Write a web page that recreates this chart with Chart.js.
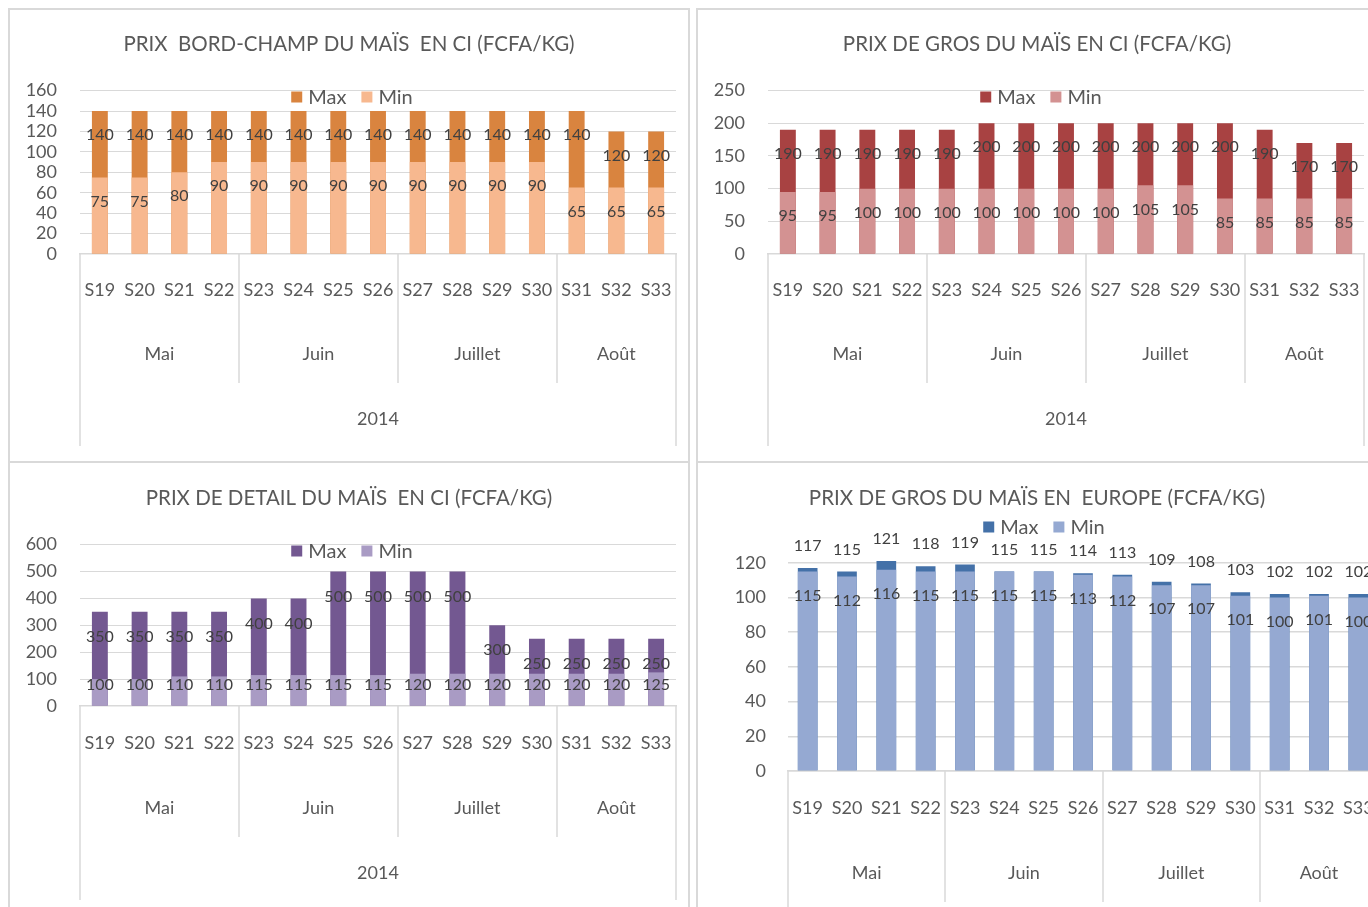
<!DOCTYPE html>
<html><head><meta charset="utf-8">
<script src="https://cdn.jsdelivr.net/npm/chart.js@4.4.1/dist/chart.umd.min.js"></script>
<style>
html,body{margin:0;padding:0;background:#fff;overflow:hidden;width:1368px;height:907px;position:relative;}
.panel{position:absolute;border:2px solid #D9D9D9;box-sizing:border-box;}
canvas{position:absolute;}
</style></head><body>
<div class="panel" style="left:8px;top:8px;width:682px;height:455px"></div>
<div class="panel" style="left:696px;top:8px;width:700px;height:455px"></div>
<div class="panel" style="left:8px;top:461px;width:682px;height:470px"></div>
<div class="panel" style="left:696px;top:461px;width:700px;height:470px"></div>
<canvas id="c1" width="682" height="455" style="left:8px;top:8px"></canvas>
<canvas id="c2" width="682" height="455" style="left:696px;top:8px"></canvas>
<canvas id="c3" width="682" height="455" style="left:8px;top:461px"></canvas>
<canvas id="c4" width="700" height="470" style="left:696px;top:461px"></canvas>
<script>
// ---- data ----
const weeks = ['S19','S20','S21','S22','S23','S24','S25','S26','S27','S28','S29','S30','S31','S32','S33'];
const months = ['Mai','Juin','Juillet','Août'];
const monthSpans = [4,4,4,3];
const yearLabel = '2014';
const seriesNames = ['Max','Min'];

const bordChampMax = [140,140,140,140,140,140,140,140,140,140,140,140,140,120,120];
const bordChampMin = [75,75,80,90,90,90,90,90,90,90,90,90,65,65,65];

const grosCIMax = [190,190,190,190,190,200,200,200,200,200,200,200,190,170,170];
const grosCIMin = [95,95,100,100,100,100,100,100,100,105,105,85,85,85,85];

const detailMax = [350,350,350,350,400,400,500,500,500,500,300,250,250,250,250];
const detailMin = [100,100,110,110,115,115,115,115,120,120,120,120,120,120,125];

const europeMax = [117,115,121,118,119,115,115,114,113,109,108,103,102,102,102];
const europeMin = [115,112,116,115,115,115,115,113,112,107,107,101,100,101,100];

const titles = [
  'PRIX  BORD-CHAMP DU MAÏS  EN CI (FCFA/KG)',
  'PRIX DE GROS DU MAÏS EN CI (FCFA/KG)',
  'PRIX DE DETAIL DU MAÏS  EN CI (FCFA/KG)',
  'PRIX DE GROS DU MAÏS EN  EUROPE (FCFA/KG)'
];

Chart.defaults.font.family = 'Lato';
const TXT = '#595959';
const GRID = '#D9D9D9';

const decor = {
  id: 'decor',
  afterDatasetsDraw(chart, args, o) {
    const ctx = chart.ctx;
    ctx.save();
    ctx.font = o.labelSize + 'px Lato';
    ctx.fillStyle = '#404040';
    ctx.textAlign = 'center';
    ctx.textBaseline = 'middle';
    chart.data.datasets.forEach((ds, di) => {
      const meta = chart.getDatasetMeta(di);
      const rule = o.labels[di];
      meta.data.forEach((el, i) => {
        let y;
        if (rule.outside) {
          y = el.y - rule.offset;
        } else {
          y = el.y + rule.offset;
          if (rule.fromBase != null) y = Math.min(y, el.base - rule.fromBase);
        }
        ctx.fillText(String(ds.data[i]), el.x, y);
      });
    });
    ctx.restore();
  },
  afterDraw(chart, args, o) {
    const ctx = chart.ctx, xs = chart.scales.x;
    const y0 = xs.top;
    const n = chart.data.labels.length;
    const edge = (k) => k <= 0 ? xs.left : (k >= n ? xs.right :
      (xs.getPixelForValue(k - 1) + xs.getPixelForValue(k)) / 2);
    const bounds = [0];
    let k = 0;
    monthSpans.forEach(s => { k += s; bounds.push(k); });
    ctx.save();
    ctx.strokeStyle = GRID;
    ctx.lineWidth = 1.5;
    bounds.forEach((b, j) => {
      const px = Math.round(edge(b));
      const outer = (j === 0 || j === bounds.length - 1);
      ctx.beginPath();
      ctx.moveTo(px, y0);
      ctx.lineTo(px, y0 + (outer ? o.outerLen : o.monthLen));
      ctx.stroke();
    });
    ctx.fillStyle = TXT;
    ctx.font = o.axisSize + 'px Lato';
    ctx.textAlign = 'center';
    ctx.textBaseline = 'middle';
    months.forEach((m, j) => {
      ctx.fillText(m, (edge(bounds[j]) + edge(bounds[j + 1])) / 2, y0 + o.monthDy);
    });
    ctx.fillText(yearLabel, (xs.left + xs.right) / 2, y0 + o.yearDy);

    // legend
    ctx.font = o.legendSize + 'px Lato';
    ctx.textAlign = 'left';
    const sq = 11, gapT = 6, gapI = 15;
    const items = chart.data.datasets.map(d => ({ t: d.label, c: d.backgroundColor, w: ctx.measureText(d.label).width }));
    let total = 0;
    items.forEach((it, i) => { total += sq + gapT + it.w + (i ? gapI : 0); });
    let x = o.legendX - total / 2;
    items.forEach((it) => {
      ctx.fillStyle = it.c;
      ctx.fillRect(x, o.legendY - sq / 2, sq, sq);
      x += sq + gapT;
      ctx.fillStyle = TXT;
      ctx.fillText(it.t, x, o.legendY + 1);
      x += it.w + gapI;
    });
    ctx.restore();
  }
};

function makeChart(id, maxData, minData, colMax, colMin, cfg) {
  return new Chart(document.getElementById(id), {
    type: 'bar',
    data: {
      labels: weeks,
      datasets: [
        { label: seriesNames[0], data: maxData, backgroundColor: colMax, order: 1, grouped: false,
          barPercentage: cfg.barPct, categoryPercentage: 1, clip: false },
        { label: seriesNames[1], data: minData, backgroundColor: colMin, order: 0, grouped: false,
          barPercentage: cfg.barPct, categoryPercentage: 1, clip: false }
      ]
    },
    options: {
      responsive: false,
      animation: false,
      devicePixelRatio: 1,
      layout: { padding: { left: 0, right: cfg.padRight, top: 0, bottom: 0 } },
      plugins: {
        legend: { display: false },
        tooltip: { enabled: false },
        title: {
          display: true, text: cfg.title, color: TXT,
          font: { size: cfg.titleSize, weight: 'normal', family: 'Lato' },
          padding: { top: cfg.titleTop, bottom: cfg.titleBottom }
        },
        decor: cfg.decor
      },
      scales: {
        x: {
          ticks: { color: TXT, font: { size: 18 }, padding: cfg.tickPad, autoSkip: false, maxRotation: 0 },
          grid: { display: false, drawTicks: false },
          border: { display: true, color: GRID, width: 1.5 },
          afterFit(s) { s.height = cfg.xHeight; s.paddingLeft = 0; s.paddingRight = cfg.xPadRight; }
        },
        y: {
          min: 0, max: cfg.yMax,
          ticks: { stepSize: cfg.yStep, color: TXT, font: { size: 18 }, padding: cfg.yPad, autoSkip: false },
          grid: { color: GRID, drawTicks: false, lineWidth: cfg.gridW },
          border: { display: false },
          afterFit(s) { s.width = cfg.yWidth; }
        }
      }
    },
    plugins: [decor]
  });
}

// chart 1
makeChart('c1', bordChampMax, bordChampMin, '#D9843F', '#F7B88F', {
  title: titles[0], titleSize: 20.5, titleTop: 24, titleBottom: 34, padRight: 0, xPadRight: 14, yWidth: 72, yPad: 23,
  xHeight: 209, tickPad: 25, yMax: 160, yStep: 20, barPct: 0.4, gridW: 1,
  decor: { labelSize: 16, axisSize: 18, legendSize: 20, legendX: 344, legendY: 89,
    monthDy: 100, yearDy: 165, monthLen: 129, outerLen: 192,
    labels: [{ offset: 24 }, { offset: 24 }] }
});
// chart 2
makeChart('c2', grosCIMax, grosCIMin, '#A84242', '#D39292', {
  title: titles[1], titleSize: 20.5, titleTop: 24, titleBottom: 34, padRight: 0, xPadRight: 14, yWidth: 72, yPad: 23,
  xHeight: 209, tickPad: 25, yMax: 250, yStep: 50, barPct: 0.4, gridW: 1,
  decor: { labelSize: 16, axisSize: 18, legendSize: 20, legendX: 345, legendY: 89,
    monthDy: 100, yearDy: 165, monthLen: 129, outerLen: 192,
    labels: [{ offset: 24 }, { offset: 24 }] }
});
// chart 3
makeChart('c3', detailMax, detailMin, '#735891', '#A99BC4', {
  title: titles[2], titleSize: 20.5, titleTop: 25, titleBottom: 34, padRight: 0, xPadRight: 14, yWidth: 72, yPad: 23,
  xHeight: 210, tickPad: 26, yMax: 600, yStep: 100, barPct: 0.4, gridW: 1,
  decor: { labelSize: 16, axisSize: 18, legendSize: 20, legendX: 344, legendY: 90,
    monthDy: 102, yearDy: 167, monthLen: 131, outerLen: 194,
    labels: [{ offset: 25 }, { offset: 24, fromBase: 21 }] }
});
// chart 4
makeChart('c4', europeMax, europeMin, '#4471A8', '#95A9D2', {
  title: titles[3], titleSize: 20.6, titleTop: 25, titleBottom: 52, padRight: 18, xPadRight: 0, yWidth: 92, yPad: 22,
  xHeight: 160, tickPad: 26, yMax: 120, yStep: 20, barPct: 0.5, gridW: 1.5,
  decor: { labelSize: 16, axisSize: 18, legendSize: 20, legendX: 348, legendY: 66,
    monthDy: 102, yearDy: 167, monthLen: 131, outerLen: 194,
    labels: [{ outside: true, offset: 22 }, { offset: 24 }] }
});
</script>
</body></html>
